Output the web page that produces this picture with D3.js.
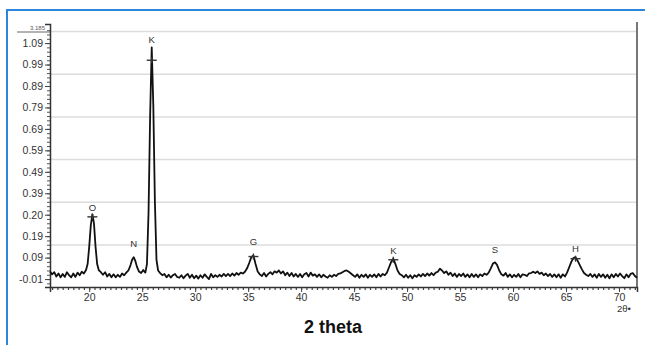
<!DOCTYPE html>
<html>
<head>
<meta charset="utf-8">
<script src="https://cdn.jsdelivr.net/npm/d3@7/dist/d3.min.js"></script>
<style>
  html, body { margin: 0; padding: 0; background: #fff; }
  svg { display: block; }
  text { font-family: "Liberation Sans", Arial, sans-serif; }
</style>
</head>
<body>
<svg id="chart" width="645" height="345"></svg>
<script>
// Diffraction pattern: 2-theta (degrees) and intensity (axis units)
const theta = [
  16.3,16.5,16.7,16.9,17.1,17.3,17.5,17.7,17.9,18.1,18.3,18.5,18.7,18.9,19.1,19.3,19.5,19.7,19.85,
  20.0,20.15,20.3,20.45,20.6,20.75,20.9,21.1,21.3,21.5,21.7,21.9,22.1,22.3,22.5,22.7,22.9,23.1,23.3,
  23.5,23.7,23.9,24.05,24.2,24.35,24.5,24.7,24.9,25.1,25.3,25.45,25.6,25.75,25.9,26.05,26.2,26.35,
  26.5,26.7,26.9,27.1,27.3,27.5,27.7,27.9,28.1,28.3,28.5,28.7,28.9,29.1,29.3,29.5,29.7,29.9,30.1,
  30.3,30.5,30.7,30.9,31.1,31.3,31.5,31.7,31.9,32.1,32.3,32.5,32.7,32.9,33.1,33.3,33.5,33.7,33.9,
  34.1,34.3,34.5,34.7,34.9,35.1,35.3,35.5,35.7,35.9,36.1,36.3,36.5,36.7,36.9,37.1,37.3,37.5,37.7,
  37.9,38.1,38.3,38.5,38.7,38.9,39.1,39.3,39.5,39.7,39.9,40.1,40.3,40.5,40.7,40.9,41.1,41.3,41.5,
  41.7,41.9,42.1,42.3,42.5,42.7,42.9,43.1,43.3,43.5,43.7,43.9,44.1,44.3,44.5,44.7,44.9,45.1,45.3,
  45.5,45.7,45.9,46.1,46.3,46.5,46.7,46.9,47.1,47.3,47.5,47.7,47.9,48.1,48.3,48.5,48.7,48.9,49.1,
  49.3,49.5,49.7,49.9,50.1,50.3,50.5,50.7,50.9,51.1,51.3,51.5,51.7,51.9,52.1,52.3,52.5,52.7,52.9,
  53.1,53.3,53.5,53.7,53.9,54.1,54.3,54.5,54.7,54.9,55.1,55.3,55.5,55.7,55.9,56.1,56.3,56.5,56.7,
  56.9,57.1,57.3,57.5,57.7,57.9,58.1,58.3,58.5,58.7,58.9,59.1,59.3,59.5,59.7,59.9,60.1,60.3,60.5,
  60.7,60.9,61.1,61.3,61.5,61.7,61.9,62.1,62.3,62.5,62.7,62.9,63.1,63.3,63.5,63.7,63.9,64.1,64.3,
  64.5,64.7,64.9,65.1,65.3,65.5,65.7,65.9,66.1,66.3,66.5,66.7,66.9,67.1,67.3,67.5,67.7,67.9,68.1,
  68.3,68.5,68.7,68.9,69.1,69.3,69.5,69.7,69.9,70.1,70.3,70.5,70.7,70.9,71.1,71.3,71.5,71.7
];
const intensity = [
  0.025,0.012,0.022,0.002,0.016,-0.002,0.014,0.000,0.022,0.008,-0.002,0.016,0.000,0.020,0.008,0.024,0.016,0.032,0.060,
  0.140,0.240,0.292,0.250,0.140,0.060,0.032,0.022,0.010,0.022,0.002,0.014,-0.002,0.012,-0.002,0.010,0.000,0.016,0.008,
  0.020,0.030,0.055,0.080,0.092,0.075,0.048,0.025,0.018,0.032,0.020,0.060,0.300,0.750,1.070,0.800,0.350,0.080,
  0.030,0.018,0.008,0.014,-0.002,0.010,-0.003,0.008,0.014,0.000,-0.004,0.008,-0.006,0.006,0.014,-0.004,0.010,-0.006,0.006,
  -0.008,0.008,-0.004,0.012,0.000,-0.010,0.014,-0.002,0.008,0.000,0.010,0.002,0.014,0.004,0.014,0.004,0.016,0.006,0.018,
  0.010,0.020,0.016,0.024,0.040,0.065,0.092,0.100,0.060,0.025,0.012,0.004,0.018,0.002,0.014,0.022,0.012,0.026,0.020,
  0.030,0.016,0.026,0.008,0.020,0.004,0.018,0.002,0.014,0.000,0.014,-0.002,0.012,0.018,0.002,0.020,0.006,0.012,0.000,
  0.012,-0.002,0.010,0.002,-0.004,0.008,0.000,0.010,0.004,0.014,0.016,0.022,0.028,0.030,0.024,0.016,0.008,0.000,0.012,
  -0.004,0.010,0.000,0.012,-0.004,0.010,0.000,0.012,-0.002,0.014,0.002,0.014,0.008,0.020,0.045,0.070,0.085,0.060,0.030,
  0.014,0.008,-0.002,0.010,-0.004,0.008,-0.006,0.008,0.000,0.012,0.002,0.014,0.004,0.016,0.006,0.018,0.008,0.020,0.024,
  0.038,0.030,0.018,0.026,0.010,0.020,0.004,0.016,0.000,0.014,0.004,0.016,0.000,0.012,-0.002,0.014,0.000,0.012,-0.002,
  0.012,0.004,0.016,0.010,0.020,0.040,0.062,0.068,0.055,0.030,0.012,0.006,0.018,0.000,0.012,-0.002,0.010,0.000,0.014,
  -0.002,0.012,0.010,0.004,0.016,0.018,0.024,0.018,0.026,0.014,0.020,0.008,0.016,0.004,0.014,0.000,0.012,-0.002,0.012,
  -0.004,0.012,0.002,0.020,0.045,0.070,0.088,0.092,0.075,0.055,0.035,0.018,0.010,0.004,0.014,0.000,0.012,-0.004,0.014,
  0.000,0.012,-0.004,0.010,-0.006,0.012,-0.002,0.014,0.002,0.016,0.004,-0.006,0.012,-0.002,0.014,0.018,0.004,-0.004
];

// Y tick values and the labels printed beside them
const yTickValues = [-0.01,0.09,0.19,0.29,0.39,0.49,0.59,0.69,0.79,0.89,0.99,1.09];
const yTickLabels = ["-0.01","0.09","0.19","0.20","0.39","0.49","0.59","0.69","0.79","0.89","0.99","1.09"];
const xTickValues = [20,25,30,35,40,45,50,55,60,65,70];
const gridValues = [0.149,0.348,0.547,0.746,0.945,1.144];

// Phase identification letters over the peaks
const peakLetters = ["O","N","K","G","K","S","H"];
const peakTheta   = [20.3,24.2,25.9,35.5,48.7,58.3,65.9];
const letterLevel = [0.32,0.15,1.10,0.16,0.12,0.125,0.13];

// Reference-line crosses on identified peaks
const crossTheta = [20.3,25.9,35.5,48.7,65.9];
const crossLevel = [0.28,1.01,0.095,0.08,0.085];

const svg = d3.select("#chart");

const x = d3.scaleLinear().domain([16.3, 71.7]).range([50, 637]);
const y = d3.scaleLinear().domain([-0.047, 1.179]).range([287, 24]);

// outer frame lines
svg.append("line").attr("x1", 7).attr("x2", 645).attr("y1", 10).attr("y2", 10)
  .attr("stroke", "#2b86dc").attr("stroke-width", 2);
svg.append("line").attr("x1", 7).attr("x2", 7).attr("y1", 9).attr("y2", 345)
  .attr("stroke", "#2b86dc").attr("stroke-width", 2);

// horizontal grid
svg.append("g").selectAll("line").data(gridValues).join("line")
  .attr("x1", x.range()[0]).attr("x2", x.range()[1])
  .attr("y1", d => y(d)).attr("y2", d => y(d))
  .attr("stroke", "#dcdcdc").attr("stroke-width", 1.5);

// right frame
svg.append("line").attr("x1", 637).attr("x2", 637).attr("y1", y.range()[1] - 2).attr("y2", y.range()[0])
  .attr("stroke", "#777").attr("stroke-width", 2);

// y axis: minor ruler ticks
const yMinor = d3.range(-0.03, 1.17, 0.02);
svg.append("g").attr("transform", "translate(50,0)")
  .call(d3.axisLeft(y).tickValues(yMinor).tickSize(3).tickFormat(""))
  .call(g => g.select(".domain").remove())
  .call(g => g.selectAll("line").attr("stroke", "#555"));

// y axis: labelled ticks
svg.append("g").attr("transform", "translate(50,0)")
  .call(d3.axisLeft(y).tickValues(yTickValues).tickSize(5).tickPadding(2)
    .tickFormat((d, i) => yTickLabels[i]))
  .call(g => g.select(".domain").attr("stroke", "#333").attr("stroke-width", 1.5))
  .call(g => g.selectAll("line").attr("stroke", "#444"))
  .call(g => g.selectAll("text").attr("font-size", 10.5).attr("fill", "#333")
    .attr("font-family", "'Liberation Sans', Arial, sans-serif"));

// scale factor note at the top of the y axis
svg.append("text").attr("x", 45).attr("y", 30).attr("text-anchor", "end")
  .attr("font-size", 6).attr("fill", "#555").text("3.185");
svg.append("line").attr("x1", 17).attr("x2", 50).attr("y1", 32).attr("y2", 32)
  .attr("stroke", "#666").attr("stroke-width", 1);

// x axis: minor ticks every half degree
const xMinor = d3.range(16.5, 71.6, 0.5);
svg.append("g").attr("transform", "translate(0,287)")
  .call(d3.axisBottom(x).tickValues(xMinor).tickSize(3).tickFormat(""))
  .call(g => g.select(".domain").remove())
  .call(g => g.selectAll("line").attr("stroke", "#444").attr("stroke-width", 1.2));

svg.append("g").attr("transform", "translate(0,287)")
  .call(d3.axisBottom(x).tickValues(xTickValues).tickSize(5).tickPadding(2).tickFormat(d3.format("d")))
  .call(g => g.select(".domain").attr("stroke", "#333").attr("stroke-width", 1.5))
  .call(g => g.selectAll("line").attr("stroke", "#444"))
  .call(g => g.selectAll("text").attr("font-size", 10.5).attr("fill", "#333")
    .attr("font-family", "'Liberation Sans', Arial, sans-serif"));

// unit under the last tick
svg.append("text").attr("x", x(70) + 5).attr("y", 312).attr("text-anchor", "middle")
  .attr("font-size", 9.5).attr("fill", "#333").text("2θ•");

// pattern trace
const pts = theta.map((t, i) => [t, intensity[i]]);
svg.append("path").datum(pts)
  .attr("fill", "none").attr("stroke", "#111").attr("stroke-width", 1.8)
  .attr("stroke-linejoin", "round")
  .attr("d", d3.line().x(d => x(d[0])).y(d => y(d[1])));

// crosses
const cross = svg.append("g").selectAll("g").data(crossTheta).join("g")
  .attr("transform", (d, i) => `translate(${x(d)},${y(crossLevel[i])})`);
cross.append("line").attr("x1", -5).attr("x2", 5).attr("y1", 0).attr("y2", 0)
  .attr("stroke", "#333").attr("stroke-width", 1.4);
cross.append("line").attr("x1", 0).attr("x2", 0).attr("y1", -3).attr("y2", 3)
  .attr("stroke", "#333").attr("stroke-width", 1.4);

// peak letters
svg.append("g").selectAll("text").data(peakLetters).join("text")
  .attr("x", (d, i) => x(peakTheta[i]))
  .attr("y", (d, i) => y(letterLevel[i]))
  .attr("text-anchor", "middle").attr("dominant-baseline", "middle")
  .attr("font-size", 9.5).attr("fill", "#333").text(d => d);

// axis title
svg.append("text").attr("x", 333).attr("y", 333).attr("text-anchor", "middle")
  .attr("font-size", 18).attr("font-weight", "bold").attr("fill", "#111").text("2 theta");
</script>
</body>
</html>
